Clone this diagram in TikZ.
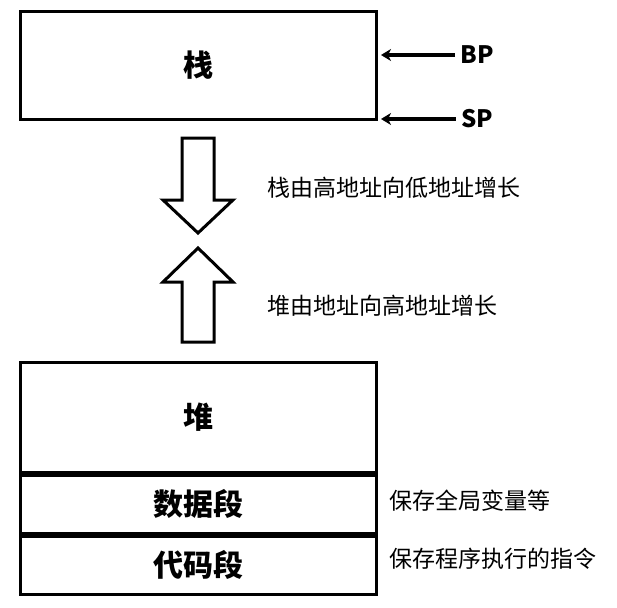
\documentclass[tikz,border=0pt]{standalone}
\usepackage{fontspec}
\setmainfont{Noto Sans CJK SC}[BoldFont={Noto Sans CJK SC Black}]
\usepackage{tikz}
\usetikzlibrary{arrows.meta, positioning}

\begin{document}
\begin{tikzpicture}[
    x=1pt, y=-1pt,
    seg/.style={draw, line width=3pt, minimum width=356pt, inner sep=0pt, font=\fontsize{30}{30}\selectfont\bfseries},
    reg/.style={inner sep=0pt, font=\fontsize{24}{24}\selectfont\bfseries},
    note/.style={inner sep=0pt, anchor=west, font=\fontsize{23}{23}\selectfont},
    ptr/.style={-{Stealth[length=10pt, width=12pt, inset=3pt]}, line width=3.2pt},
    blockarrow/.style={draw, line width=3pt, fill=white, line join=miter}
]
\useasboundingbox (0,0) rectangle (617,607);

% stack
\node[seg, minimum height=107pt] (stack) at (198,65.5) {栈};
\node[reg] (bp) at (477,55) {BP};
\node[reg] (sp) at (477,119) {SP};
\coordinate (bptip) at (381,55);
\coordinate (sptip) at (381,119);
\draw[ptr] (bp.west) ++(-5pt,0) -- (bptip);
\draw[ptr] (sp.west) ++(-5pt,0) -- (sptip);

% growth arrows
\draw[blockarrow] (182,138) -- (214,138) -- (214,200) -- (233,200) -- (198,233)
    -- (163,200) -- (182,200) -- cycle;
\draw[blockarrow] (182,342) -- (214,342) -- (214,282) -- (233,282) -- (198,248)
    -- (163,282) -- (182,282) -- cycle;
\node[note] (stackgrow) at (267,188) {栈由高地址向低地址增长};
\node[note] (heapgrow) at (267,306) {堆由地址向高地址增长};

% heap, data, code
\node[seg, minimum height=110pt] (heap) at (198,417) {堆};
\node[seg, minimum height=58pt, below=0pt of heap] (data) {数据段};
\node[seg, minimum height=58pt, below=0pt of data] (code) {代码段};
\node[note] (datanote) at (389,501) {保存全局变量等};
\node[note] (codenote) at (389,559) {保存程序执行的指令};
\end{tikzpicture}
\end{document}
